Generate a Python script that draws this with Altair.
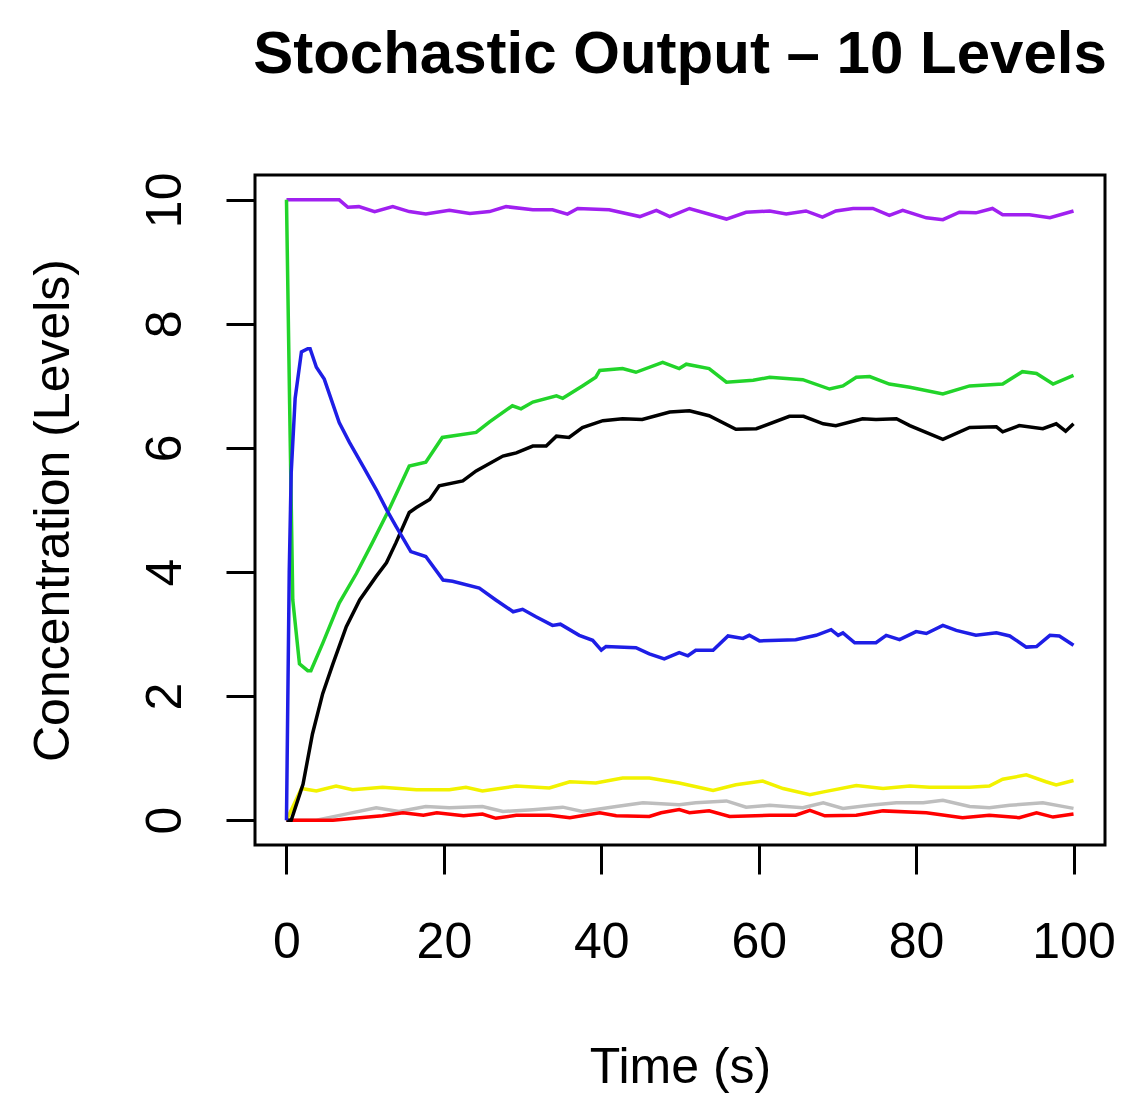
import altair as alt
import pandas as pd

# ---- data ----
purple_t = [0, 6.7, 7.8, 9.2, 11.2, 13.5, 15.6, 17.7, 20.7, 23.3, 25.8, 27.9, 31.3, 33.8, 35.7, 37.0, 41.0, 44.9, 47.0, 48.7,
            51.2, 55.9, 58.4, 61.4, 63.5, 66.0, 68.1, 69.8, 72.0, 74.5, 76.6, 78.3, 81.3, 83.4, 85.5, 87.6, 89.7, 91.0, 94.4, 97.0, 100]
purple_v = [10.0, 10.0, 9.88, 9.89, 9.81, 9.89, 9.81, 9.77, 9.83, 9.78, 9.81, 9.89, 9.84, 9.84, 9.77, 9.86, 9.84, 9.73, 9.83, 9.73,
            9.86, 9.69, 9.80, 9.82, 9.77, 9.82, 9.72, 9.82, 9.86, 9.86, 9.75, 9.83, 9.71, 9.68, 9.80, 9.79, 9.86, 9.76, 9.76, 9.71, 9.82]

green_t = [0, 0.4, 0.8, 1.65, 2.7, 3.1, 4.6, 6.7, 8.9, 10.9, 13.0, 15.6, 17.7, 19.8, 24.1, 25.8, 28.7, 29.8, 31.3, 34.3, 35.1,
           37.6, 39.3, 39.8, 42.7, 44.4, 47.8, 49.9, 50.8, 53.7, 55.9, 59.3, 61.4, 65.6, 69.0, 70.7, 72.4, 74.1, 76.6, 79.2, 83.4,
           86.8, 91.0, 93.5, 95.3, 97.4, 100]
green_v = [10, 6.7, 3.55, 2.52, 2.41, 2.41, 2.85, 3.5, 3.98, 4.47, 5.0, 5.71, 5.77, 6.17, 6.25, 6.42, 6.68, 6.63, 6.74, 6.84, 6.80,
           7.0, 7.14, 7.25, 7.28, 7.22, 7.38, 7.28, 7.35, 7.28, 7.06, 7.09, 7.14, 7.10, 6.95, 7.0, 7.14, 7.15, 7.03, 6.98, 6.87,
           7.0, 7.03, 7.23, 7.20, 7.03, 7.17]

black_t = [0, 0.6, 2.1, 3.3, 4.6, 5.9, 7.6, 9.3, 11.4, 12.7, 13.9, 15.6, 16.5, 18.2, 19.4, 22.4, 24.1, 27.5, 29.2, 31.3,
           33.0, 34.3, 35.9, 37.6, 40.2, 42.7, 45.2, 48.7, 51.2, 53.7, 57.1, 59.7, 63.9, 65.7, 68.2, 69.8, 73.2, 74.9, 77.5, 79.2,
           83.4, 86.8, 90.2, 91.0, 93.1, 96.1, 97.8, 99.0, 100]
black_v = [0, 0.0, 0.58, 1.39, 2.04, 2.52, 3.12, 3.55, 3.93, 4.15, 4.47, 4.96, 5.04, 5.17, 5.39, 5.47, 5.63, 5.87, 5.92, 6.03,
           6.03, 6.19, 6.17, 6.33, 6.44, 6.47, 6.46, 6.58, 6.60, 6.52, 6.30, 6.31, 6.51, 6.51, 6.39, 6.36, 6.47, 6.46, 6.47, 6.36,
           6.14, 6.33, 6.34, 6.26, 6.36, 6.31, 6.39, 6.27, 6.39]

blue_t = [0, 0.35, 0.6, 1.1, 1.9, 2.7, 3.0, 3.8, 4.8, 6.7, 8.0, 9.7, 11.4, 12.7, 13.9, 15.8, 17.7, 19.9, 21.1, 24.5,
          26.6, 28.8, 30.0, 31.7, 33.8, 34.8, 37.2, 38.9, 40.0, 40.6, 44.4, 46.1, 48.0, 49.9, 51.0, 52.0, 54.2, 56.1, 58.0, 58.8,
          60.1, 64.7, 67.3, 69.2, 70.1, 70.7, 72.2, 74.9, 76.2, 77.9, 80.0, 81.3, 83.4, 85.1, 87.6, 90.2, 91.9, 94.0, 95.3, 97.0,
          98.2, 100]
blue_v = [0, 4.0, 5.6, 6.8, 7.55, 7.6, 7.6, 7.3, 7.11, 6.41, 6.09, 5.71, 5.33, 5.01, 4.74, 4.33, 4.25, 3.87, 3.85, 3.74,
          3.55, 3.36, 3.40, 3.28, 3.14, 3.16, 2.98, 2.90, 2.74, 2.80, 2.78, 2.68, 2.60, 2.70, 2.65, 2.74, 2.74, 2.97, 2.93, 2.98,
          2.89, 2.91, 2.98, 3.07, 2.98, 3.02, 2.86, 2.86, 2.98, 2.91, 3.04, 3.01, 3.14, 3.06, 2.98, 3.02, 2.97, 2.79, 2.80, 2.98,
          2.97, 2.82]

yellow_t = [0, 1.9, 3.8, 6.3, 8.4, 12.2, 16.5, 20.7, 22.8, 24.9, 29.2, 33.4, 36.0, 39.3, 42.7, 46.1, 49.9, 54.2, 57.1, 60.5,
            63.1, 66.5, 68.4, 72.4, 75.8, 79.2, 81.7, 86.8, 89.3, 91.0, 94.0, 96.5, 97.8, 100]
yellow_v = [0, 0.51, 0.47, 0.55, 0.49, 0.53, 0.49, 0.49, 0.53, 0.47, 0.55, 0.52, 0.62, 0.60, 0.68, 0.68, 0.60, 0.48, 0.57, 0.63,
            0.51, 0.41, 0.46, 0.56, 0.51, 0.55, 0.53, 0.53, 0.55, 0.66, 0.73, 0.62, 0.57, 0.64]

gray_t = [0, 3.8, 7.2, 11.4, 14.3, 17.7, 20.7, 24.9, 27.5, 31.3, 35.1, 37.6, 41.9, 45.3, 49.9, 52.0, 55.9, 58.4, 61.4, 65.6,
          68.2, 70.7, 74.1, 77.5, 80.9, 83.4, 86.8, 89.3, 91.9, 96.1, 100]
gray_v = [0, 0.0, 0.09, 0.20, 0.14, 0.22, 0.20, 0.22, 0.14, 0.17, 0.21, 0.14, 0.22, 0.28, 0.25, 0.28, 0.31, 0.21, 0.24, 0.20,
          0.28, 0.19, 0.24, 0.28, 0.28, 0.32, 0.22, 0.20, 0.24, 0.28, 0.19]

red_t = [0, 5.9, 9.3, 12.2, 14.8, 17.4, 19.1, 22.5, 24.9, 26.6, 29.2, 33.4, 36.0, 39.8, 41.9, 46.1, 47.6, 49.9, 51.2, 53.7,
         56.3, 61.4, 64.7, 66.5, 68.4, 72.4, 75.8, 81.3, 85.9, 89.3, 93.1, 95.3, 97.4, 100]
red_v = [0, 0.0, 0.04, 0.07, 0.12, 0.08, 0.12, 0.07, 0.10, 0.03, 0.08, 0.08, 0.04, 0.12, 0.07, 0.06, 0.12, 0.17, 0.12, 0.15,
         0.06, 0.08, 0.08, 0.16, 0.07, 0.08, 0.15, 0.12, 0.04, 0.08, 0.04, 0.12, 0.05, 0.10]

series_names = ["gray", "red", "yellow", "purple", "green", "black", "blue"]
series_colors = ["#BEBEBE", "#FF0000", "#F2F200", "#A020F0", "#22D42A", "#000000", "#1E1EE6"]
series_data = {
    "gray": (gray_t, gray_v),
    "red": (red_t, red_v),
    "yellow": (yellow_t, yellow_v),
    "purple": (purple_t, purple_v),
    "green": (green_t, green_v),
    "black": (black_t, black_v),
    "blue": (blue_t, blue_v),
}

x_ticks = [0, 20, 40, 60, 80, 100]
y_ticks = [0, 2, 4, 6, 8, 10]

rows = []
for k, name in enumerate(series_names):
    ts, vs = series_data[name]
    for i, (t, v) in enumerate(zip(ts, vs)):
        rows.append({"series": name, "t": t, "v": v, "idx": i, "layer": k})
df = pd.DataFrame(rows)

FONT = "Liberation Sans"

chart = alt.Chart(df).mark_line(strokeWidth=3.5).encode(
    x=alt.X("t:Q",
            scale=alt.Scale(domain=[-4, 104], nice=False, zero=False),
            axis=alt.Axis(values=x_ticks, title="Time (s)", grid=False, domain=False,
                          tickSize=29, tickWidth=3, tickColor="black",
                          labelFont=FONT, labelFontSize=50, labelColor="black",
                          labelBaseline="alphabetic", labelPadding=83, labelFlush=False,
                          labelOverlap=False,
                          titleFont=FONT, titleFontSize=50, titleFontWeight="normal",
                          titleColor="black", titleX=425, titleY=237,
                          titleAlign="center", titleBaseline="alphabetic")),
    y=alt.Y("v:Q",
            scale=alt.Scale(domain=[-0.4, 10.4], nice=False, zero=False),
            axis=alt.Axis(values=y_ticks, title="Concentration (Levels)", grid=False, domain=False,
                          tickSize=29, tickWidth=3, tickColor="black",
                          labelFont=FONT, labelFontSize=50, labelColor="black",
                          labelAngle=270, labelAlign="center", labelBaseline="alphabetic",
                          labelPadding=46, labelFlush=False, labelOverlap=False,
                          titleFont=FONT, titleFontSize=50, titleFontWeight="normal",
                          titleColor="black", titleAngle=270, titleX=-187, titleY=335,
                          titleAlign="center", titleBaseline="alphabetic")),
    color=alt.Color("series:N", scale=alt.Scale(domain=series_names, range=series_colors), legend=None),
    detail="series:N",
    order="idx:Q",
).properties(
    width=850,
    height=670,
    autosize="none",
    background="white",
    padding={"left": 247, "top": 167, "right": 11, "bottom": 249},
    title=alt.Title("Stochastic Output – 10 Levels", font=FONT, fontSize=60, fontWeight="bold",
                    color="black", anchor="middle", frame="group", baseline="alphabetic", offset=39),
).configure_view(
    stroke="black", strokeWidth=3
)

chart.save("out.html", embed_options={"renderer": "svg", "actions": False})
